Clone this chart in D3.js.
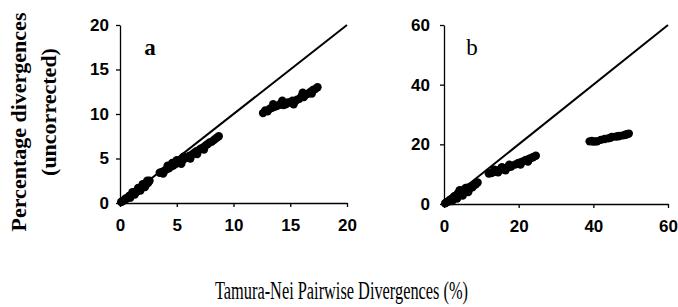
<!DOCTYPE html>
<html>
<head>
<meta charset="utf-8">
<script src="https://cdn.jsdelivr.net/npm/d3@7"></script>
<style>
  body { margin: 0; background: #fff; }
  svg { display: block; }
</style>
</head>
<body>
<div id="vis"></div>
<script>
// panel a : points (Tamura-Nei %, uncorrected %)
var pointsA = [
  [0.1,0.1],[0.2,0.2],[0.3,0.25],[0.4,0.35],[0.5,0.5],[0.6,0.5],[0.7,0.6],[0.8,0.8],
  [0.9,0.75],[1.0,0.9],[1.1,1.0],[1.2,1.1],[1.3,1.1],[1.4,1.3],[1.5,1.3],[1.6,1.5],
  [1.7,1.5],[1.8,1.7],[1.9,1.7],[2.0,1.9],[2.1,1.9],[2.2,2.0],[2.3,2.1],[2.4,2.2],
  [2.5,2.3],[2.6,2.5],[0.9,0.6],[1.3,0.95],[1.8,1.4],[2.2,1.8],[1.1,1.2],[1.6,1.7],
  [2.0,2.1],[2.4,2.5],
  [3.5,3.4],[3.7,3.5],[3.9,3.6],[4.1,3.8],[4.3,3.9],[4.5,4.1],[4.7,4.2],[4.9,4.4],
  [5.1,4.5],[5.3,4.7],[5.5,4.8],[5.7,5.0],[5.9,5.1],[6.1,5.3],[6.3,5.4],[6.5,5.6],
  [6.7,5.8],[6.9,5.9],[7.1,6.1],[7.3,6.2],[7.5,6.4],[7.7,6.6],[7.9,6.8],[8.1,6.9],
  [8.3,7.1],[8.5,7.3],[8.7,7.5],[4.2,4.2],[4.6,4.5],[5.0,4.8],[3.8,3.3],[5.6,5.2],
  [6.2,5.0],[6.8,5.5],[7.4,6.0],[5.4,4.4],
  [12.6,10.1],[12.8,10.4],[13.0,10.3],[13.2,10.6],[13.4,10.7],[13.6,10.8],[13.8,10.9],
  [14.0,11.0],[14.2,11.2],[14.4,11.0],[14.6,11.1],[14.8,11.3],[15.0,11.3],[15.2,11.5],
  [15.4,11.4],[15.6,11.6],[15.8,11.7],[16.0,12.0],[16.2,11.9],[16.4,12.2],[16.6,12.3],
  [16.8,12.5],[17.0,12.7],[17.2,12.8],[17.4,13.0],[13.5,11.1],[14.3,11.5],[15.3,11.1],
  [16.1,12.4],[16.9,12.3]
];

// panel b
var pointsB = [
  [0.3,0.2],[0.6,0.5],[1,0.8],[1.3,0.9],[1.6,1.4],[2,1.5],[2.3,2.0],[2.6,2.0],
  [3,2.7],[3.3,2.4],[3.6,3.2],[4,3.0],[4.3,3.9],[4.6,3.4],[5,4.5],[5.3,3.9],
  [5.6,5.0],[6,4.5],[6.4,5.5],[6.8,5.0],[7.2,5.9],[7.6,5.6],[8,6.2],[8.5,6.6],
  [9,7.2],[2.8,2.6],[3.8,3.7],[5.8,5.4],[1.8,1.2],[4.8,4.2],[3.5,1.8],[5,2.8],
  [6.5,4.0],[2.2,1.0],[4.2,4.6],
  [12,10.2],[12.7,10.4],[13,10.6],[13.7,10.9],[14,11],[14.7,11.3],[15,11.4],[15.7,11.7],
  [16,11.8],[16.7,12.1],[17,12.3],[17.7,12.5],[18,12.6],[19,13.2],[19.7,13.5],[20,13.8],
  [20.7,14.0],[21,14.2],[21.7,14.6],[22,14.8],[22.7,15.0],[23,15.3],[23.7,15.6],[24,15.8],
  [24.6,16.2],[13.5,11.5],[15.5,12.3],[17.5,13.2],[14.5,10.6],[16.5,11.3],[20.5,13.2],
  [22.5,14.2],
  [39,21],[39.6,21.1],[40,20.9],[40.6,21.0],[41,21],[42,21.5],[43,21.8],[44,22],[44.6,22.2],
  [45,22.5],[46,22.6],[46.6,22.7],[47,22.8],[48,23],[48.6,23.2],[49,23.4],[49.5,23.6]
];

var ticksA = [0, 5, 10, 15, 20];
var ticksB = [0, 20, 40, 60];

var svg = d3.select("#vis").append("svg")
  .attr("width", 678)
  .attr("height", 307);

function panel(points, ticks, maxV, box, label, labelBold, yPad) {
  var x = d3.scaleLinear().domain([0, maxV]).range([box.left, box.right]);
  var y = d3.scaleLinear().domain([0, maxV]).range([box.bottom, box.top]);

  var g = svg.append("g");

  var xAxis = d3.axisBottom(x).tickValues(ticks).tickSize(4).tickSizeOuter(0).tickPadding(12);
  var yAxis = d3.axisLeft(y).tickValues(ticks).tickSize(4).tickSizeOuter(0).tickPadding(yPad);

  g.append("g")
    .attr("transform", "translate(0," + box.bottom + ")")
    .call(xAxis);
  g.append("g")
    .attr("transform", "translate(" + box.left + ",0)")
    .call(yAxis);

  g.selectAll(".domain, .tick line")
    .attr("stroke", "#000")
    .attr("stroke-width", 1.3);
  g.selectAll(".tick text")
    .attr("fill", "#000")
    .style("font-family", "Arial, 'Liberation Sans', sans-serif")
    .style("font-weight", "bold")
    .style("font-size", "17px");

  // y = x reference line
  g.append("line")
    .attr("x1", x(0)).attr("y1", y(0))
    .attr("x2", x(maxV)).attr("y2", y(maxV))
    .attr("stroke", "#000")
    .attr("stroke-width", 2);

  g.selectAll("circle")
    .data(points)
    .enter()
    .append("circle")
    .attr("cx", function(d) { return x(d[0]); })
    .attr("cy", function(d) { return y(d[1]); })
    .attr("r", 4.2)
    .attr("fill", "#000");

  g.append("text")
    .attr("x", box.labelX)
    .attr("y", 55)
    .attr("text-anchor", "middle")
    .style("font-family", "'Times New Roman', 'Liberation Serif', serif")
    .style("font-weight", labelBold ? "bold" : "normal")
    .style("font-size", "23px")
    .text(label);
}

panel(pointsA, ticksA, 20, {left: 120, right: 347, top: 25, bottom: 203, labelX: 150}, "a", true, 7);
panel(pointsB, ticksB, 60, {left: 444, right: 668, top: 25, bottom: 204, labelX: 472}, "b", false, 10);

// y title, two lines
svg.append("text")
  .attr("transform", "translate(26,122) rotate(-90)")
  .attr("text-anchor", "middle")
  .style("font-family", "'Times New Roman', 'Liberation Serif', serif")
  .style("font-weight", "bold")
  .style("font-size", "22px")
  .text("Percentage divergences");

svg.append("text")
  .attr("transform", "translate(56,112) rotate(-90)")
  .attr("text-anchor", "middle")
  .style("font-family", "'Times New Roman', 'Liberation Serif', serif")
  .style("font-weight", "bold")
  .style("font-size", "22px")
  .text("(uncorrected)");

// x title
svg.append("text")
  .attr("x", 215)
  .attr("y", 299)
  .attr("textLength", 253)
  .attr("lengthAdjust", "spacingAndGlyphs")
  .style("font-family", "'Times New Roman', 'Liberation Serif', serif")
  .style("font-size", "25px")
  .text("Tamura-Nei Pairwise Divergences (%)");
</script>
</body>
</html>
